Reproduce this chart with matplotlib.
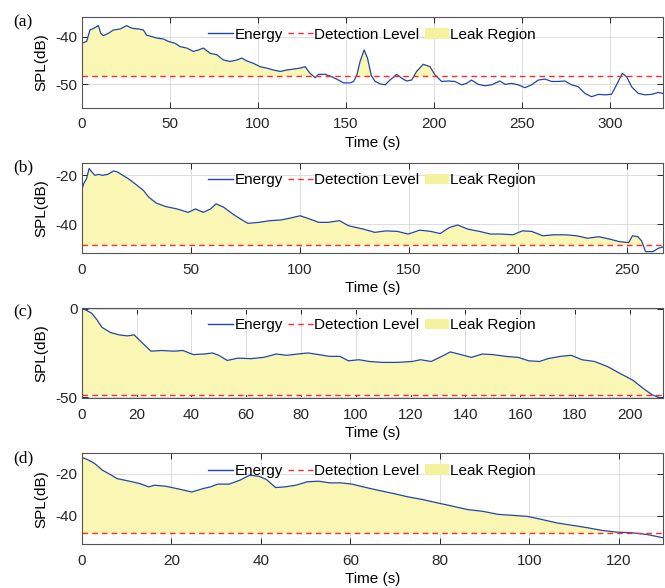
import numpy as np
import matplotlib
matplotlib.use("Agg")
import matplotlib.pyplot as plt
from matplotlib.patches import Patch
from matplotlib.lines import Line2D

plt.rcParams['font.family'] = ['Liberation Sans', 'DejaVu Sans']
plt.rcParams['font.size'] = 11
plt.rcParams['axes.unicode_minus'] = False

# (a)
t_a = [0, 2.8, 4.7, 6.6, 9.5, 10.8, 12.3, 15.2, 18, 21.8,
       25.6, 27.5, 29.4, 32.2, 35, 36.9, 39.8, 42.6, 46.4, 49.2,
       53, 55.9, 59.7, 63.4, 66.3, 69.1, 72.9, 76.7, 80.5, 84.3,
       88.1, 90.9, 93.8, 97.5, 101.3, 105.1, 108.9, 112.7, 116.5, 120.3,
       124.1, 126.9, 129.7, 132.6, 134.5, 138.3, 142, 145.8, 148.7, 152.5,
       154.4, 156.3, 158.1, 160.4, 162.3, 164.5, 166.7, 169.5, 172.3, 175.1,
       178.9, 181.7, 184.5, 187.4, 190.2, 194, 197.8, 200.6, 204.4, 208.2,
       212, 215.7, 218.6, 221.4, 225.2, 229, 232.8, 237.5, 240.4, 244.1,
       247.9, 251.7, 255.5, 259.3, 263.1, 266.9, 270.6, 274.4, 278.2, 282,
       285.8, 289.6, 293.4, 297.1, 300.9, 303.8, 307, 309.5, 312.3, 316.1,
       319.9, 323.7, 327.5, 330]
spl_a = [-41.4, -41.0, -38.6, -38.3, -37.7, -39.3, -39.8, -39.3, -38.6, -38.4,
         -37.7, -38.1, -38.3, -38.4, -38.6, -39.7, -40.0, -40.3, -40.5, -41.0,
         -41.4, -42.1, -42.4, -43.1, -42.8, -42.4, -43.5, -43.8, -44.9, -45.2,
         -44.9, -44.5, -45.1, -45.6, -46.3, -46.6, -47.0, -47.3, -47.0, -46.8,
         -46.6, -46.3, -47.7, -48.6, -47.9, -47.9, -48.4, -49.1, -49.7, -49.7,
         -49.4, -48.0, -45.2, -42.8, -44.5, -48.2, -49.4, -49.9, -50.1, -49.1,
         -47.9, -48.7, -49.3, -49.1, -47.3, -45.8, -46.3, -48.0, -49.4, -49.3,
         -49.4, -50.1, -49.8, -49.1, -50.0, -50.3, -50.1, -49.3, -50.0, -49.8,
         -50.1, -50.7, -50.1, -49.1, -48.9, -49.4, -49.4, -49.3, -50.1, -50.5,
         -51.9, -52.6, -52.1, -52.2, -52.1, -50.1, -47.7, -48.4, -50.5, -51.9,
         -52.2, -52.1, -51.7, -51.9]

# (b)
t_b = [0, 0.9, 2.2, 3.4, 4.6, 6, 7.7, 9.4, 12, 14.6,
       16.3, 18.8, 21.4, 24.8, 28.3, 30.8, 34.2, 38.5, 43.7, 48.8,
       52.2, 55.7, 59.1, 61.6, 65.1, 69.3, 72.8, 76.2, 81.3, 86.5,
       91.6, 95.9, 100.2, 104.5, 108.7, 113, 118.2, 122.4, 129.3, 134.4,
       139.6, 144.7, 149.8, 155, 160.1, 164.4, 168.7, 172.4, 177.2, 182.4,
       187.5, 192.6, 197.8, 202.1, 206.3, 211.5, 216.6, 221.8, 226.9, 232,
       237.2, 242.3, 246.6, 250.9, 252.6, 255.1, 256.8, 258.6, 262, 264.6,
       266.6]
spl_b = [-26.2, -23.4, -21.4, -17.2, -18.6, -20.0, -19.6, -20.0, -19.6, -18.2,
         -18.6, -20.0, -21.4, -23.7, -26.2, -29.0, -31.4, -32.8, -33.8, -35.2,
         -33.8, -35.2, -33.8, -31.7, -33.1, -35.9, -37.9, -39.7, -39.3, -38.6,
         -38.3, -37.5, -36.6, -37.9, -39.3, -39.3, -38.6, -40.7, -42.1, -43.4,
         -42.8, -43.0, -44.1, -42.5, -43.0, -43.9, -41.4, -40.4, -42.1, -43.0,
         -44.1, -44.1, -44.4, -42.8, -43.0, -44.8, -44.4, -44.4, -44.8, -45.8,
         -45.2, -46.2, -47.2, -47.6, -44.8, -45.2, -46.9, -51.3, -51.3, -49.9,
         -49.4]

# (c)
t_c = [0, 1.2, 3.6, 5.6, 7.4, 10.5, 13.6, 16.7, 19.1, 21.4,
       25.3, 29.1, 33.8, 36.9, 40.7, 44.6, 47.7, 50, 53.1, 57,
       61.7, 66.3, 71, 74.8, 78.7, 82.6, 86.4, 90.3, 94.2, 97.3,
       101.2, 105, 109.7, 115.1, 120.5, 123.6, 127.5, 131.4, 134.5, 138.3,
       142.2, 146.1, 150, 154.6, 159.3, 163.1, 167, 170.1, 174.7, 178.6,
       182.5, 187.1, 191.8, 196.4, 201.1, 205, 208.1, 212]
spl_c = [-0.1, -0.6, -2.6, -6.4, -10.6, -13.5, -14.8, -15.4, -14.8, -18.3,
         -24.0, -23.6, -24.0, -23.6, -25.9, -25.6, -25.0, -26.3, -29.2, -27.9,
         -28.2, -27.5, -25.6, -26.3, -25.6, -25.0, -25.9, -26.9, -26.9, -29.4,
         -28.8, -29.8, -30.3, -30.3, -29.8, -28.8, -29.8, -26.9, -24.4, -25.9,
         -27.5, -25.6, -25.9, -26.9, -27.5, -29.4, -29.8, -28.2, -26.9, -26.3,
         -28.8, -29.8, -32.6, -36.5, -40.3, -45.1, -48.5, -50.8]

# (d)
t_d = [0, 1.25, 2.9, 4.6, 6.25, 7.9, 10.4, 12.9, 15, 16.25,
       18.75, 21.25, 24.6, 27.1, 28.75, 30.4, 32.9, 35.4, 37.5, 39.6,
       41.25, 43.3, 45.4, 47.9, 50.4, 52.9, 55.4, 57.9, 60.4, 62.9,
       66.25, 69.6, 72.9, 76.25, 79.6, 82.9, 86.25, 89.6, 92.9, 96.25,
       99.6, 102.9, 106.25, 109.6, 112.9, 116.25, 119.6, 122.9, 126.25, 129.75]
spl_d = [-12.4, -13.4, -15.3, -18.4, -20.3, -22.4, -23.5, -24.7, -26.3, -25.5,
         -26.0, -27.1, -28.7, -27.1, -26.3, -25.0, -25.0, -23.1, -20.8, -21.3,
         -22.8, -26.6, -26.3, -25.5, -23.9, -23.6, -24.4, -24.4, -25.0, -26.3,
         -27.9, -29.4, -31.0, -32.3, -33.9, -35.4, -37.0, -37.8, -39.2, -39.7,
         -40.2, -41.7, -43.3, -44.4, -45.5, -46.8, -47.6, -47.9, -48.7, -50.2]

detect = [-48.3, -48.5, -48.4, -48.1]
panel_labels = ['(a)', '(b)', '(c)', '(d)']
xlims = [(0, 330), (0, 266.5), (0, 212), (0, 129.8)]
ylims = [(-54.9, -35.9), (-52, -14.8), (-50.5, 0.5), (-53.2, -10.5)]
xticks = [np.arange(0, 301, 50), np.arange(0, 251, 50), np.arange(0, 201, 20), np.arange(0, 121, 20)]
yticks = [[-50, -40], [-40, -20], [-50, 0], [-40, -20]]

series = [(t_a, spl_a), (t_b, spl_b), (t_c, spl_c), (t_d, spl_d)]

line_col = '#2146a8'
det_col = '#ff2a2a'
fill_col = '#faf7b4'

fig = plt.figure(figsize=(6.65, 5.88), dpi=100)
left, width, height = 0.1229, 0.8737, 0.1542
bottoms = [0.8168, 0.5692, 0.3226, 0.0748]

for i, (t, v) in enumerate(series):
    ax = fig.add_axes([left, bottoms[i], width, height])
    t = np.array(t)
    v = np.array(v)
    d = detect[i]
    ax.fill_between(t, d, v, where=v > d, interpolate=True, color=fill_col, lw=0)
    ax.plot(t, v, color=line_col, lw=0.9)
    ax.axhline(d, color=det_col, lw=1.0, ls=(0, (4, 3)))
    ax.set_xlim(*xlims[i])
    ax.set_ylim(*ylims[i])
    ax.set_xticks(xticks[i])
    ax.set_yticks(yticks[i])
    ax.grid(True, color='#dcdcdc', lw=0.7)
    ax.set_axisbelow(True)
    ax.tick_params(direction='in', top=True, right=True, length=4, width=0.7,
                   colors='#262626', labelsize=11)
    ax.tick_params(axis='x', pad=7)
    ax.tick_params(axis='y', pad=3)
    for s in ax.spines.values():
        s.set_color('#555555')
        s.set_linewidth(0.8)
    ax.set_xlabel('Time (s)', fontsize=11, labelpad=3)
    ax.set_ylabel('SPL(dB)', fontsize=11)
    ax.yaxis.set_label_coords(-0.058, 0.5)

    handles = [Line2D([], [], color=line_col, lw=1.0),
               Line2D([], [], color=det_col, lw=1.0, ls=(0, (4, 3))),
               Patch(facecolor='#f5f29e', edgecolor='none')]
    ax.legend(handles, ['Energy', 'Detection Level', 'Leak Region'],
              loc='upper center', bbox_to_anchor=(0.5, 1.0), ncol=3, frameon=False,
              fontsize=11, handlelength=1.6, handletextpad=0.1, columnspacing=0.35,
              borderaxespad=0.3)

    top_px = 588 * (1 - bottoms[i] - height)
    fig.text(13 / 665, 1 - (top_px - 3) / 588, panel_labels[i], family=['Liberation Serif'],
             fontsize=12.5, va='top', ha='left')

fig.savefig('out.png', dpi=100)
